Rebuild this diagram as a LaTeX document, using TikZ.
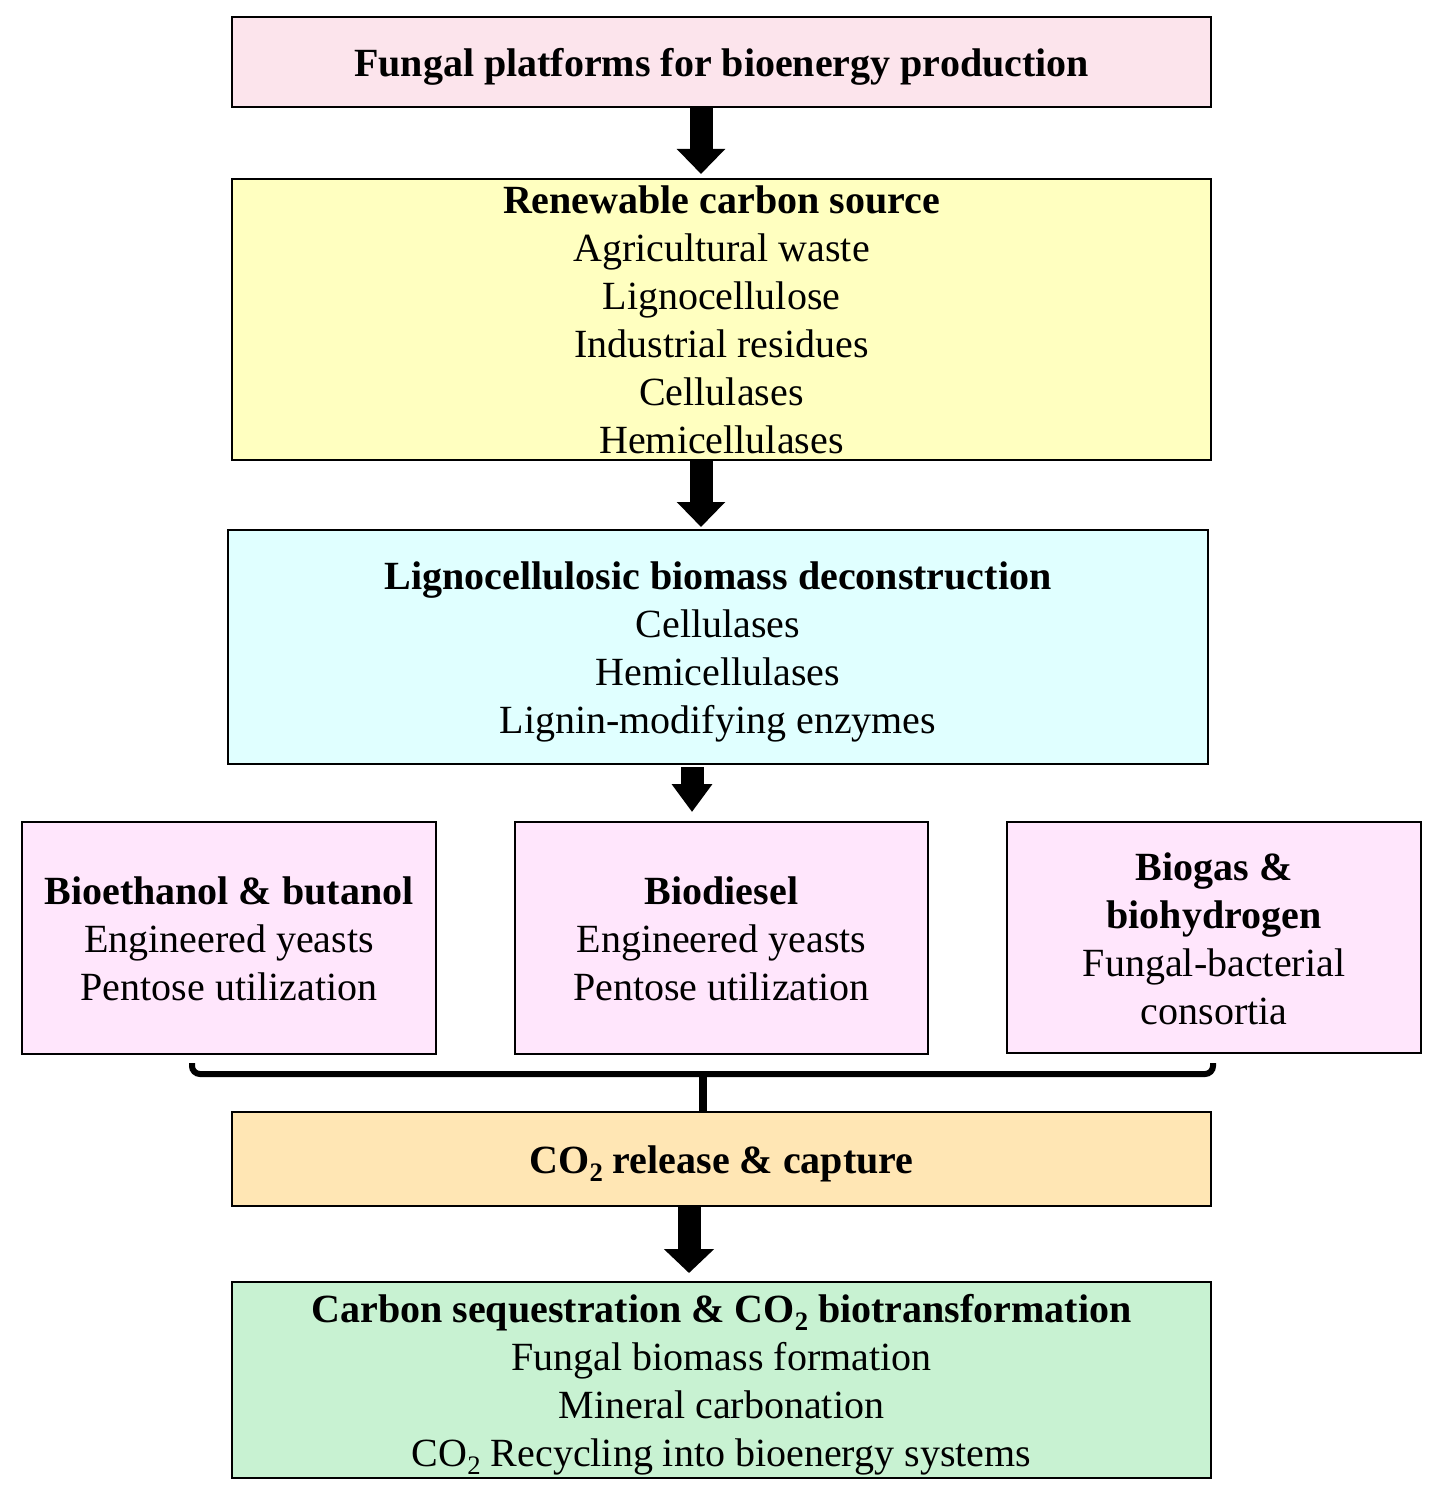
\documentclass[tikz,border=0pt]{standalone}
\usepackage{fontspec}
\setmainfont{Liberation Serif}
\usetikzlibrary{arrows.meta}
\definecolor{toppink}{RGB}{252,228,236}
\definecolor{lightyel}{RGB}{255,255,192}
\definecolor{lightcyan}{RGB}{224,255,255}
\definecolor{lightviolet}{RGB}{255,230,252}
\definecolor{lightorange}{RGB}{255,230,180}
\definecolor{lightgreen}{RGB}{200,242,210}
\newcommand\mytopstrut{\rule{0pt}{28pt}}
\newcommand\mybotstrut{\rule[-6pt]{0pt}{6pt}}
\newcommand\subtwo{\raisebox{-0.2em}{\fontsize{20}{20}\selectfont 2}}
\begin{document}
\begin{tikzpicture}[x=0.75pt,y=-0.75pt,
  box/.style={draw=black, line width=1.5pt, inner sep=0pt, align=center,
    font=\fontsize{30}{36}\selectfont},
  widebox/.style={box, minimum width=734.25pt},
  sidebox/.style={box, fill=lightviolet, minimum width=310.5pt, minimum height=174pt},
  fat/.style={line width=17.25pt, -{Triangle[width=35.25pt,length=18.75pt]}},
  brace/.style={line width=4.5pt}]
\useasboundingbox (0,0) rectangle (1437,1509);

\node[widebox, fill=toppink, minimum height=67.5pt] (top) at (721.5,62)
  {\mytopstrut\textbf{Fungal platforms for bioenergy production}\mybotstrut};
\node[widebox, fill=lightyel, minimum height=210.75pt] (yel) at (721.5,319.5)
  {\textbf{Renewable carbon source}\\Agricultural waste\\Lignocellulose\\Industrial residues\\Cellulases\\Hemicellulases};
\node[box, fill=lightcyan, minimum width=735pt, minimum height=175.5pt] (cyan) at (718,647)
  {\mytopstrut\textbf{Lignocellulosic biomass deconstruction}\\Cellulases\\Hemicellulases\\Lignin-modifying enzymes\mybotstrut};
\node[sidebox] (left) at (229,938)
  {\mytopstrut\textbf{Bioethanol \& butanol}\\Engineered yeasts\\Pentose utilization\mybotstrut};
\node[sidebox, minimum width=309.75pt] (mid) at (721.5,938)
  {\mytopstrut\textbf{Biodiesel}\\Engineered yeasts\\Pentose utilization\mybotstrut};
\node[sidebox, minimum height=173.25pt] (right) at (1214,937.5)
  {\mytopstrut\textbf{Biogas \&}\\\textbf{biohydrogen}\\Fungal-bacterial\\consortia\mybotstrut};
\node[widebox, fill=lightorange, minimum height=70.5pt] (co2) at (721.5,1159)
  {\mytopstrut\textbf{CO\subtwo{} release \& capture}\mybotstrut};
\node[widebox, fill=lightgreen, minimum height=147pt] (green) at (721.5,1380)
  {\mytopstrut\textbf{Carbon sequestration \& CO\subtwo{} biotransformation}\\Fungal biomass formation\\Mineral carbonation\\CO\subtwo{} Recycling into bioenergy systems\mybotstrut};

\coordinate (a1) at (701,0);
\coordinate (a3) at (692,0);
\coordinate (a4) at (689,0);
\draw[fat, shorten >=3pt] (top.south -| a1) -- (yel.north -| a1);
\draw[fat, shorten >=1.5pt] (yel.south -| a1) -- (cyan.north -| a1);
\draw[fat, -{Triangle[width=29.25pt,length=21pt]}, shorten <=1.5pt, shorten >=6.75pt] (cyan.south -| a3) -- (mid.north -| a3);
\draw[fat, -{Triangle[width=36.75pt,length=18pt]}, shorten >=6pt] (co2.south -| a4) -- (green.north -| a4);

\coordinate (bl) at (192,1063);
\coordinate (br) at (1213,1063);
\coordinate (bj) at (703,1074);
\draw[brace, rounded corners=6pt] (bl) -- (192,1074) -- (1213,1074) -- (br);
\draw[line width=5.5pt] (bj) -- (co2.north -| bj);
\end{tikzpicture}
\end{document}
